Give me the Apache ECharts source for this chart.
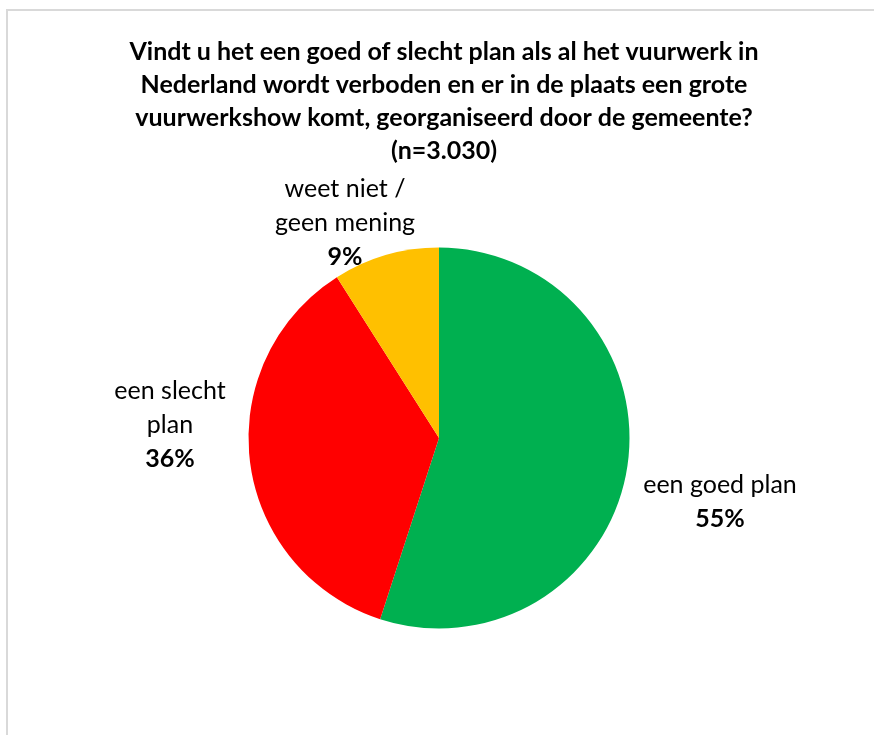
<!DOCTYPE html>
<html>
<head>
<meta charset="utf-8">
<script src="https://cdn.jsdelivr.net/npm/echarts@6/dist/echarts.min.js"></script>
<style>
html,body{margin:0;padding:0;background:#fff;}
#chart{width:874px;height:735px;}
</style>
</head>
<body>
<div id="chart"></div>
<script>
const titleText = "Vindt u het een goed of slecht plan als al het vuurwerk in\nNederland wordt verboden en er in de plaats een grote\nvuurwerkshow komt, georganiseerd door de gemeente?\n(n=3.030)";
const categories = ["een goed plan", "een slecht\nplan", "weet niet /\ngeen mening"];
const values = [55, 36, 9];
const colors = ["#00B050", "#FF0000", "#FFC000"];
const labelPos = [[720, 502], [170, 425], [345, 223]];

const FONT = "Lato, 'Liberation Sans', sans-serif";
const chart = echarts.init(document.getElementById('chart'), null, {renderer: 'canvas'});
chart.setOption({
  backgroundColor: '#ffffff',
  animation: false,
  title: {
    text: titleText,
    left: 439,
    top: 30,
    textAlign: 'center',
    textStyle: {
      fontFamily: FONT,
      fontWeight: 'bold',
      fontSize: 25,
      lineHeight: 33,
      color: '#000000'
    }
  },
  graphic: [{
    type: 'rect',
    shape: {x: 7, y: 10, width: 1000, height: 1000},
    style: {fill: 'none', stroke: '#d9d9d9', lineWidth: 2},
    silent: true
  }],
  series: [{
    type: 'pie',
    center: [439, 438],
    radius: [0, 190.5],
    startAngle: 90,
    clockwise: true,
    avoidLabelOverlap: false,
    itemStyle: {borderWidth: 0},
    label: {
      show: true,
      position: 'outside',
      formatter: function (p) { return '{n|' + p.name.split('\n').join('}\n{n|') + '}\n{b|' + p.value + '%}'; },
      rich: {
        n: {fontFamily: FONT, fontSize: 25, lineHeight: 34, color: '#000000'},
        b: {fontFamily: FONT, fontSize: 25, lineHeight: 34, fontWeight: 'bold', color: '#000000'}
      }
    },
    labelLine: {show: false},
    labelLayout: function (params) {
      const pos = labelPos[params.dataIndex];
      return {x: pos[0], y: pos[1], align: 'center', verticalAlign: 'middle'};
    },
    data: categories.map(function (c, i) {
      return {name: c, value: values[i], itemStyle: {color: colors[i]}};
    })
  }]
});
</script>
</body>
</html>
